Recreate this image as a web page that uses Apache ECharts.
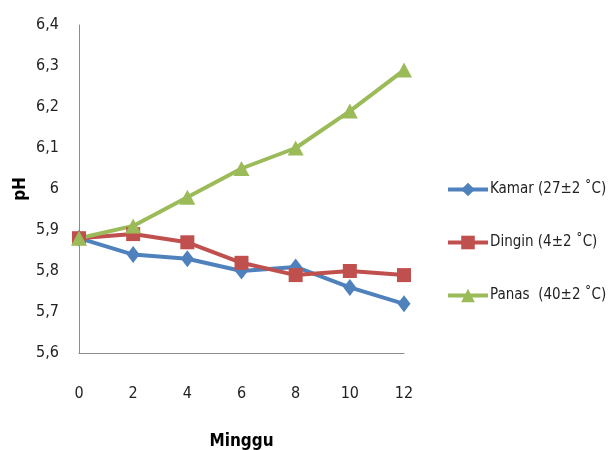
<!DOCTYPE html>
<html>
<head>
<meta charset="utf-8">
<script src="https://cdn.jsdelivr.net/npm/echarts@6/dist/echarts.min.js"></script>
<style>
  html, body { margin: 0; padding: 0; background: #fff; }
  #chart { width: 612px; height: 450px; }
</style>
</head>
<body>
<div id="chart"></div>
<script>
// Weeks of storage
const weeks = [0, 2, 4, 6, 8, 10, 12];
// pH per storage temperature
const kamar  = [5.88, 5.84, 5.83, 5.80, 5.81, 5.76, 5.72];
const dingin = [5.88, 5.89, 5.87, 5.82, 5.79, 5.80, 5.79];
const panas  = [5.88, 5.91, 5.98, 6.05, 6.10, 6.19, 6.29];
const seriesNames = ['Kamar (27±2 ˚C)', 'Dingin (4±2 ˚C)', 'Panas  (40±2 ˚C)'];

const font = "'DejaVu Sans Condensed', 'Liberation Sans Narrow', 'Liberation Sans', Arial, sans-serif";
const pair = arr => arr.map((v, i) => [weeks[i], v]);

const chart = echarts.init(document.getElementById('chart'));
chart.setOption({
  animation: false,
  color: ['#4F81BD', '#C0504D', '#9BBB59'],
  grid: { left: 79, right: 208, top: 25, bottom: 97, containLabel: false, outerBoundsMode: 'none' },
  xAxis: {
    type: 'value', min: 0, max: 12, interval: 2,
    name: 'Minggu', nameLocation: 'middle', nameGap: 80,
    nameTextStyle: { fontFamily: font, fontWeight: 'bold', fontSize: 17, color: '#000' },
    axisLine: { lineStyle: { color: '#8c8c8c', width: 1 } },
    axisTick: { show: false },
    splitLine: { show: false },
    axisLabel: { fontFamily: font, fontSize: 16, color: '#222', margin: 33 }
  },
  yAxis: {
    type: 'value', min: 5.6, max: 6.4, interval: 0.1,
    name: 'pH', nameLocation: 'middle', nameGap: 50, nameRotate: 90,
    nameMoveOverlap: false,
    nameTextStyle: { fontFamily: font, fontWeight: 'bold', fontSize: 17, color: '#000' },
    axisLine: { show: true, lineStyle: { color: '#8c8c8c', width: 1 } },
    axisTick: { show: false },
    splitLine: { show: false },
    axisLabel: {
      fontFamily: font, fontSize: 16, color: '#222', margin: 20,
      formatter: v => (Math.round(v * 10) / 10).toString().replace('.', ',')
    }
  },
  legend: {
    orient: 'vertical', left: 441, top: 177, itemGap: 38,
    itemWidth: 40, itemHeight: 17,
    lineStyle: { width: 4 },
    textStyle: { fontFamily: font, fontSize: 15, color: '#222', padding: [0, 0, 0, -3] },
    data: seriesNames
  },
  series: [
    { name: seriesNames[0], type: 'line', data: pair(kamar), symbol: 'diamond', symbolSize: [13, 17], lineStyle: { width: 4 } },
    { name: seriesNames[1], type: 'line', data: pair(dingin), symbol: 'rect', symbolSize: 14, lineStyle: { width: 4 } },
    { name: seriesNames[2], type: 'line', data: pair(panas), symbol: 'triangle', symbolSize: [16, 15], lineStyle: { width: 4 } }
  ]
});
</script>
</body>
</html>
